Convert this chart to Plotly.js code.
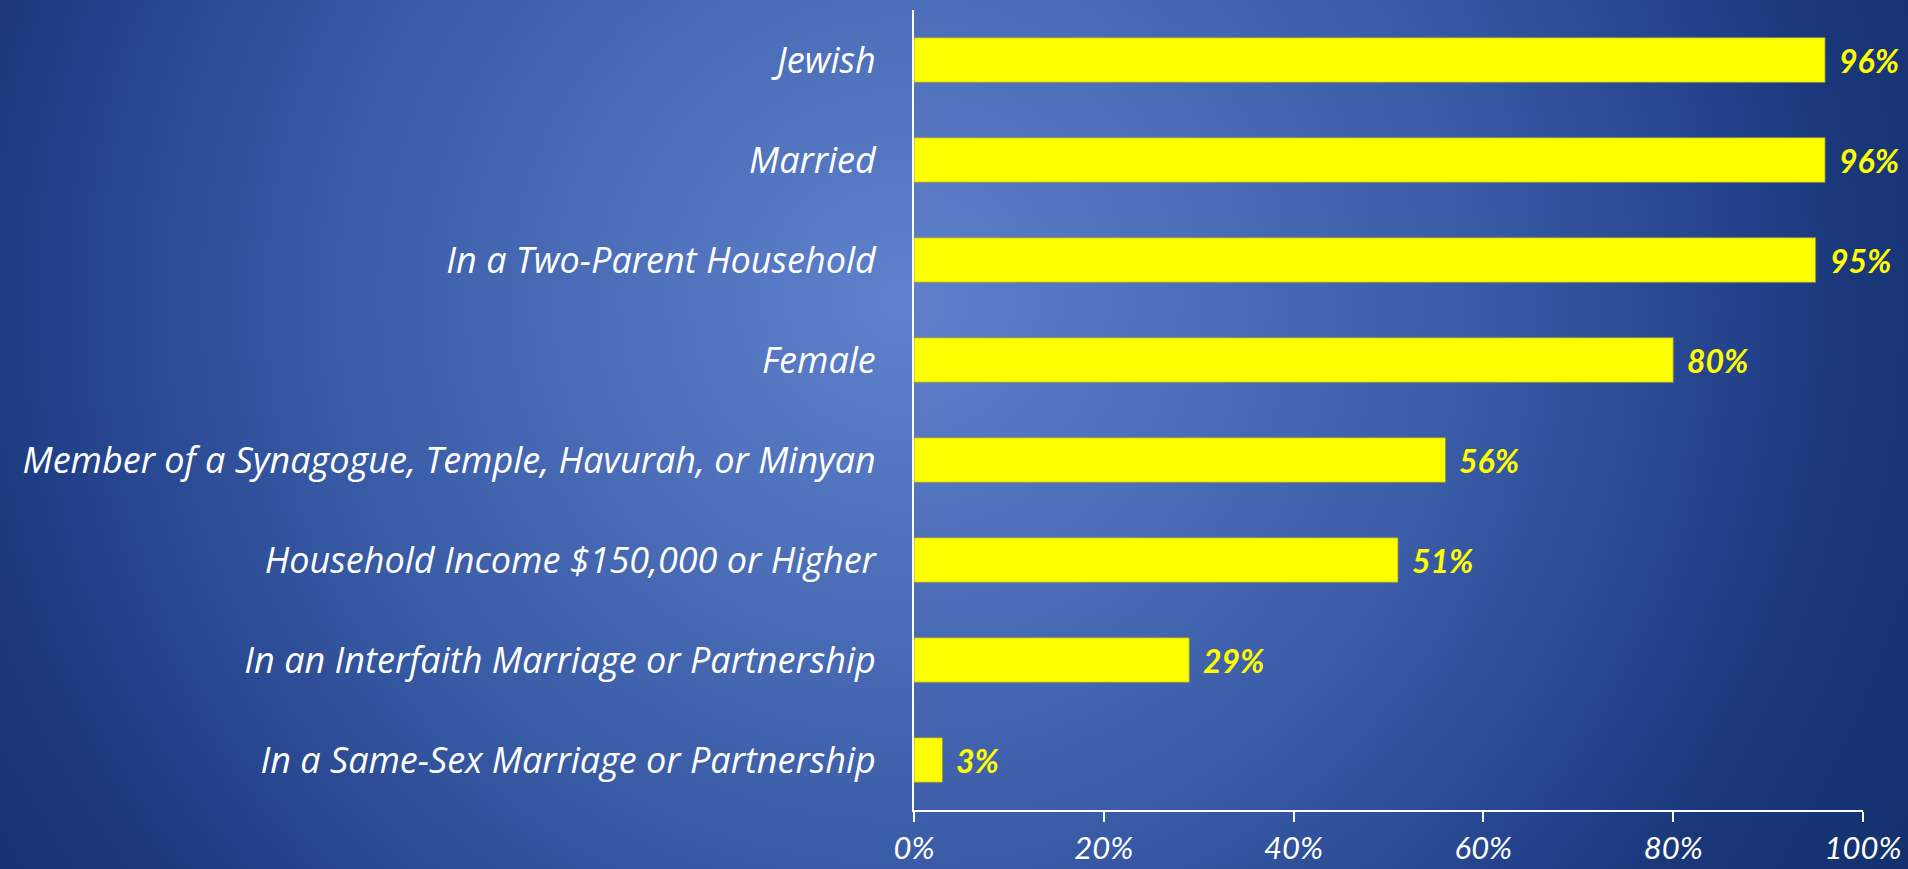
<!DOCTYPE html>
<html>
<head>
<meta charset="utf-8">
<script src="https://cdn.plot.ly/plotly-3.0.1.min.js"></script>
<style>
  html, body { margin: 0; padding: 0; }
  body {
    width: 1908px; height: 869px; overflow: hidden;
    background: radial-gradient(circle at 900px 300px, #5f81cb 0px, #4c6eb8 300px, #3a5ca6 560px, #22418a 850px, #1a377a 950px, #13306f 1150px);
  }
  #chart { width: 1908px; height: 869px; }
</style>
</head>
<body>
<div id="chart"></div>
<script>
const categories = [
  "Jewish",
  "Married",
  "In a Two-Parent Household",
  "Female",
  "Member of a Synagogue, Temple, Havurah, or Minyan",
  "Household Income $150,000 or Higher",
  "In an Interfaith Marriage or Partnership",
  "In a Same-Sex Marriage or Partnership"
];
const values = [96, 96, 95, 80, 56, 51, 29, 3];
const tickVals = [0, 20, 40, 60, 80, 100];
const tickLabels = ["0%", "20%", "40%", "60%", "80%", "100%"];

const FONT = "Lato, 'Open Sans', sans-serif";
const LABEL_FONT = "'Open Sans', Lato, sans-serif";

const trace = {
  type: "bar",
  orientation: "h",
  x: values,
  y: categories,
  marker: { color: "#FFFF00", line: { color: "rgba(150,150,70,0.8)", width: 1 } },
  hoverinfo: "none"
};

const annotations = values.map((v, i) => ({
  x: v, y: categories[i], xref: "x", yref: "y",
  text: v + "%", showarrow: false, xanchor: "left", yanchor: "middle",
  xshift: 12,
  font: { family: FONT, size: 32, color: "#FFFF00", weight: "bold", style: "italic" }
}));

const layout = {
  width: 1908, height: 869,
  paper_bgcolor: "rgba(0,0,0,0)",
  plot_bgcolor: "rgba(0,0,0,0)",
  margin: { l: 914, r: 45, t: 10, b: 59, pad: 0 },
  bargap: 0.555,
  showlegend: false,
  xaxis: {
    range: [0, 100], tickvals: tickVals, ticktext: tickLabels,
    showgrid: false, zeroline: false,
    showline: true, linecolor: "#FFFFFF", linewidth: 2,
    ticks: "outside", ticklen: 10, tickwidth: 2, tickcolor: "#FFFFFF",
    ticklabelstandoff: 0,
    tickfont: { family: FONT, size: 31, color: "#FFFFFF", style: "italic" },
    fixedrange: true
  },
  yaxis: {
    type: "category", autorange: "reversed",
    showgrid: false, zeroline: false,
    showline: true, linecolor: "#FFFFFF", linewidth: 2,
    ticks: "", ticklabelstandoff: 29,
    tickfont: { family: LABEL_FONT, size: 36, color: "#FFFFFF", style: "italic" },
    fixedrange: true
  },
  annotations: annotations
};

Plotly.newPlot("chart", [trace], layout, { displayModeBar: false, staticPlot: true });
</script>
</body>
</html>
